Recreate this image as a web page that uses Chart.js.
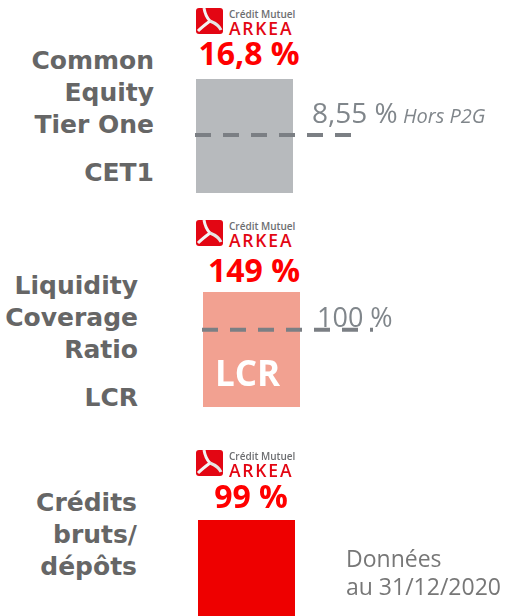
<!DOCTYPE html>
<html>
<head>
<meta charset="utf-8">
<script src="https://cdn.jsdelivr.net/npm/chart.js@4"></script>
<style>
  html, body { margin:0; padding:0; background:#fff; width:509px; height:616px; overflow:hidden; position:relative; }
  .abs { position:absolute; white-space:nowrap; }
  .cat { font-family:"DejaVu Sans", sans-serif; font-weight:bold; font-size:25px; line-height:32px; color:#666; text-align:right; }
  .val { font-family:"Open Sans", sans-serif; font-weight:bold; font-size:32px; line-height:32px; color:#ff0000; text-align:center; width:140px; }
  .thr { font-family:"Open Sans", sans-serif; color:#80868b; }
  canvas { position:absolute; }
</style>
</head>
<body>
<script>
// ---- data ----
const categories = ['CET1', 'LCR', 'Crédits bruts/dépôts'];
const categoryLines = [['Common', 'Equity', 'Tier One'], ['Liquidity', 'Coverage', 'Ratio'], ['Crédits', 'bruts/', 'dépôts']];
const abbreviations = ['CET1', 'LCR', ''];
const values = [16.8, 149, 99];
const valueLabels = ['16,8 %', '149 %', '99 %'];
const thresholds = [8.55, 100, null];
const thresholdLabels = ['8,55 %', '100 %', ''];
const thresholdNotes = ['Hors P2G', '', ''];
const barLabels = ['', 'LCR', ''];
const footnoteLines = ['Données', 'au 31/12/2020'];

// ---- layout (positions / styles only) ----
const barColors = ['#b7babd', '#f2a191', '#ee0000'];
const panels = [
  { barLeft:196, barRight:293, barTop:79,  barBottom:193, lineEnd:352, logoTop:8,
    catTop:45, catRight:154, abbrTop:157, valTop:37, valCenter:249,
    thrLeft:312, thrTop:98, thrSize:28 },
  { barLeft:203, barRight:300, barTop:292, barBottom:407, lineEnd:373, logoTop:220,
    catTop:270, catRight:138, abbrTop:382, valTop:254, valCenter:254,
    thrLeft:317, thrTop:303, thrSize:27 },
  { barLeft:198, barRight:295, barTop:520, barBottom:634, lineEnd:0, logoTop:450,
    catTop:487, catRight:137, abbrTop:0, valTop:480, valCenter:251,
    thrLeft:0, thrTop:0, thrSize:0 }
];
const CANVAS_LEFT = 150, CANVAS_RIGHT = 390, PAD_TOP = 12;

function el(tag, cls, style, text) {
  const e = document.createElement(tag);
  if (cls) e.className = cls;
  Object.assign(e.style, style || {});
  if (text !== undefined) e.textContent = text;
  document.body.appendChild(e);
  return e;
}

function logo(top) {
  const ns = 'http://www.w3.org/2000/svg';
  const wrap = document.createElement('div');
  wrap.className = 'abs';
  wrap.style.left = '196px';
  wrap.style.top = top + 'px';
  wrap.innerHTML =
    '<svg xmlns="' + ns + '" width="110" height="28" viewBox="0 0 110 28">' +
    '<rect x="0" y="0" width="27" height="26" rx="3" fill="#e30613"/>' +
    '<path d="M8 0 C9 6 11 10 14 13" stroke="#f3f3f3" stroke-width="3" fill="none"/>' +
    '<path d="M14 13 C10 16 6 19 2 23" stroke="#f3f3f3" stroke-width="3" fill="none"/>' +
    '<path d="M14 13 C19 15 23 17 25 22" stroke="#e6e6e6" stroke-width="3" fill="none"/>' +
    '<text x="33" y="10" font-family="Open Sans" font-weight="600" font-size="10" fill="#6d6e71">Crédit Mutuel</text>' +
    '<text x="33" y="26.5" font-family="Open Sans" font-weight="600" font-size="17.5" letter-spacing="1.8" fill="#e30613">ARKEA</text>' +
    '</svg>';
  document.body.appendChild(wrap);
}

const thresholdPlugin = {
  id: 'threshold',
  afterDatasetsDraw(chart, args, opts) {
    if (opts.value === null || opts.value === undefined) return;
    const y = chart.scales.y.getPixelForValue(opts.value);
    const ctx = chart.ctx;
    ctx.save();
    ctx.strokeStyle = '#7b7f84';
    ctx.lineWidth = 4;
    ctx.setLineDash([16, 12]);
    ctx.beginPath();
    ctx.moveTo(chart.chartArea.left - 1, y);
    ctx.lineTo(opts.end, y);
    ctx.stroke();
    ctx.restore();
  }
};

values.forEach((v, i) => {
  const p = panels[i];
  el('div', 'abs cat', { right: (509 - p.catRight) + 'px', top: p.catTop + 'px' })
    .innerHTML = categoryLines[i].join('<br>');
  if (abbreviations[i]) el('div', 'abs cat', { right: (509 - p.catRight) + 'px', top: p.abbrTop + 'px' }, abbreviations[i]);
  logo(p.logoTop);
  el('div', 'abs val', { left: (p.valCenter - 70) + 'px', top: p.valTop + 'px' }, valueLabels[i]);

  const cv = document.createElement('canvas');
  const h = p.barBottom - p.barTop + PAD_TOP;
  cv.width = CANVAS_RIGHT - CANVAS_LEFT; cv.height = h;
  cv.style.left = CANVAS_LEFT + 'px'; cv.style.top = (p.barTop - PAD_TOP) + 'px';
  cv.style.width = cv.width + 'px'; cv.style.height = h + 'px';
  document.body.appendChild(cv);
  new Chart(cv, {
    type: 'bar',
    data: { labels: [categories[i]], datasets: [{ data: [v], backgroundColor: barColors[i], borderWidth: 0,
      barPercentage: 1, categoryPercentage: 1 }] },
    options: {
      responsive: false, animation: false, devicePixelRatio: 1,
      layout: { padding: { top: PAD_TOP, bottom: 0, left: p.barLeft - CANVAS_LEFT, right: CANVAS_RIGHT - p.barRight } },
      plugins: { legend: { display: false }, tooltip: { enabled: false },
        threshold: { value: thresholds[i], end: p.lineEnd - CANVAS_LEFT } },
      scales: {
        x: { display: false },
        y: { display: false, min: 0, max: v }
      }
    },
    plugins: [thresholdPlugin]
  });

  if (thresholdLabels[i]) {
    const t = el('div', 'abs thr', { left: p.thrLeft + 'px', top: p.thrTop + 'px', fontSize: p.thrSize + 'px', lineHeight: p.thrSize + 'px' }, thresholdLabels[i]);
    if (thresholdNotes[i]) {
      const s = document.createElement('span');
      s.textContent = ' ' + thresholdNotes[i];
      s.style.fontStyle = 'italic'; s.style.fontSize = '20px';
      t.appendChild(s);
    }
  }
  if (barLabels[i]) {
    el('div', 'abs', { left: '215px', top: '355px', fontFamily: '"Open Sans", sans-serif', fontWeight: 'bold',
      fontSize: '35px', lineHeight: '35px', color: '#fff' }, barLabels[i]);
  }
});

el('div', 'abs', { left: '346px', top: '544px', fontFamily: '"Open Sans", sans-serif', fontSize: '23px',
  lineHeight: '28px', color: '#777' }).innerHTML = footnoteLines.join('<br>');
</script>
</body>
</html>
